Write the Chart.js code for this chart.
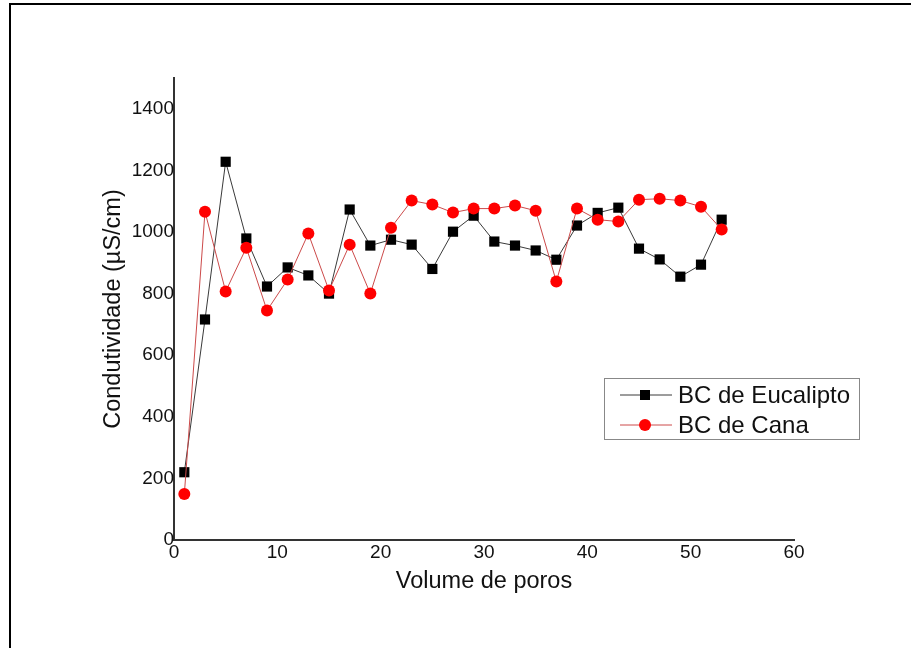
<!DOCTYPE html>
<html>
<head>
<meta charset="utf-8">
<script src="https://cdn.jsdelivr.net/npm/chart.js@4.4.1/dist/chart.umd.min.js"></script>
<style>
  html, body { margin: 0; padding: 0; background: #fff; }
  canvas { display: block; }
</style>
</head>
<body>
<canvas id="c" width="911" height="648"></canvas>
<script>
// ---- data ----
const volumes = [1,3,5,7,9,11,13,15,17,19,21,23,25,27,29,31,33,35,37,39,41,43,45,47,49,51,53];
const eucalipto = [220,716,1228,979,823,885,859,800,1073,956,975,959,880,1001,1053,969,956,940,910,1021,1062,1079,946,911,855,894,1040];
const cana = [149,1066,807,949,745,846,995,810,959,800,1014,1102,1089,1063,1076,1076,1086,1069,839,1076,1040,1034,1105,1108,1102,1082,1008];
const xTicks = [0,10,20,30,40,50,60];
const yTicks = [0,200,400,600,800,1000,1200,1400];
const seriesNames = ['BC de Eucalipto', 'BC de Cana'];

const toPts = (ys) => volumes.map((x, i) => ({ x: x, y: ys[i] }));

const FONT = 'Arial, "Liberation Sans", sans-serif';

const framePlugin = {
  id: 'frame',
  beforeDraw(chart) {
    const ctx = chart.ctx;
    ctx.save();
    ctx.fillStyle = '#fff';
    ctx.fillRect(0, 0, chart.width, chart.height);
    ctx.strokeStyle = '#000';
    ctx.lineWidth = 2;
    ctx.beginPath();
    ctx.moveTo(10, chart.height);
    ctx.lineTo(10, 4);
    ctx.lineTo(chart.width, 4);
    ctx.stroke();
    ctx.restore();
  }
};

const legendPlugin = {
  id: 'insideLegend',
  afterDraw(chart) {
    const ctx = chart.ctx;
    const bx = 604, by = 378, bw = 255, bh = 61;
    ctx.save();
    ctx.fillStyle = '#fff';
    ctx.fillRect(bx, by, bw, bh);
    ctx.strokeStyle = '#888';
    ctx.lineWidth = 1;
    ctx.strokeRect(bx + 0.5, by + 0.5, bw, bh);
    const rows = [395, 425];
    chart.data.datasets.forEach((ds, i) => {
      const y = rows[i];
      ctx.strokeStyle = ds.borderColor;
      ctx.lineWidth = 1;
      ctx.beginPath();
      ctx.moveTo(620, y);
      ctx.lineTo(672, y);
      ctx.stroke();
      ctx.fillStyle = ds.pointBackgroundColor;
      if (ds.pointStyle === 'rect') {
        ctx.fillRect(645 - 5, y - 5, 10, 10);
      } else {
        ctx.beginPath();
        ctx.arc(645, y, 6, 0, Math.PI * 2);
        ctx.fill();
      }
      ctx.fillStyle = '#111';
      ctx.font = '24px ' + FONT;
      ctx.textBaseline = 'middle';
      ctx.textAlign = 'left';
      ctx.fillText(ds.label, 678, y + 1);
    });
    ctx.restore();
  }
};

new Chart(document.getElementById('c'), {
  type: 'scatter',
  data: {
    datasets: [
      {
        label: seriesNames[0],
        data: toPts(eucalipto),
        showLine: true,
        borderColor: '#3a3a3a',
        borderWidth: 1,
        pointStyle: 'rect',
        pointRadius: 7.2,
        pointBackgroundColor: '#000',
        pointBorderColor: '#000',
        pointBorderWidth: 0,
        order: 2
      },
      {
        label: seriesNames[1],
        data: toPts(cana),
        showLine: true,
        borderColor: '#cc4a4a',
        borderWidth: 1,
        pointStyle: 'circle',
        pointRadius: 6,
        pointBackgroundColor: '#ff0000',
        pointBorderColor: '#ff0000',
        pointBorderWidth: 0,
        order: 1
      }
    ]
  },
  options: {
    responsive: false,
    animation: false,
    devicePixelRatio: 1,
    layout: { padding: { left: 0, right: 117, top: 78, bottom: 0 } },
    plugins: { legend: { display: false }, tooltip: { enabled: false } },
    scales: {
      x: {
        type: 'linear',
        min: 0, max: 60,
        afterFit(scale) { scale.height = 108; },
        afterBuildTicks(scale) { scale.ticks = xTicks.map(v => ({ value: v })); },
        grid: { display: false, drawTicks: false },
        border: { display: true, color: '#333', width: 2 },
        ticks: { color: '#111', font: { size: 19, family: FONT }, padding: 1, maxRotation: 0, autoSkip: false, callback: (v) => String(v) },
        title: { display: true, text: 'Volume de poros', color: '#111', font: { size: 23.5, family: FONT }, padding: { top: 0, bottom: 52 } }
      },
      y: {
        type: 'linear',
        min: 0, max: 1500,
        afterFit(scale) { scale.width = 174; },
        afterBuildTicks(scale) { scale.ticks = yTicks.map(v => ({ value: v })); },
        grid: { display: false, drawTicks: false },
        border: { display: true, color: '#333', width: 2 },
        ticks: { color: '#111', font: { size: 19, family: FONT }, padding: 0, autoSkip: false, callback: (v) => String(v) },
        title: { display: true, text: 'Condutividade (µS/cm)', color: '#111', font: { size: 23.5, family: FONT }, padding: { top: 99, bottom: 0 } }
      }
    }
  },
  plugins: [framePlugin, legendPlugin]
});
</script>
</body>
</html>
